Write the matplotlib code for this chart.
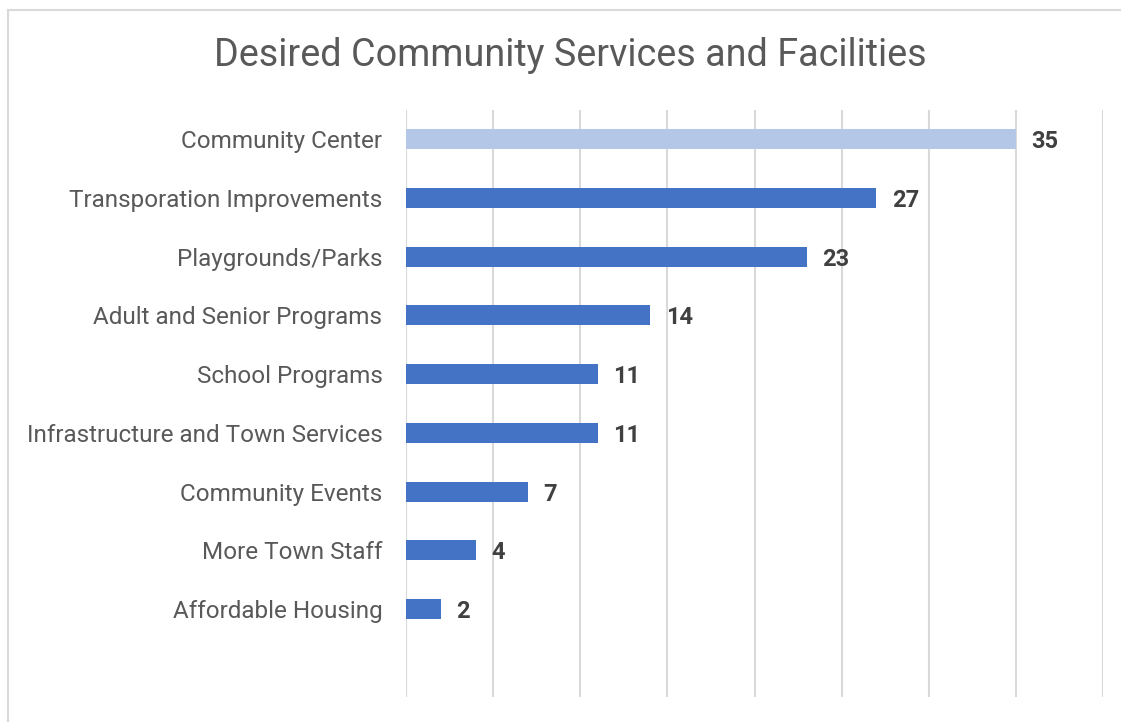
import matplotlib
matplotlib.use("Agg")
import matplotlib.pyplot as plt
from matplotlib.patches import Rectangle

categories = ["Community Center", "Transporation Improvements", "Playgrounds/Parks",
              "Adult and Senior Programs", "School Programs",
              "Infrastructure and Town Services", "Community Events",
              "More Town Staff", "Affordable Housing"]
values = [35, 27, 23, 14, 11, 11, 7, 4, 2]
bar_colors = ["#B4C7E7"] + ["#4472C4"] * 8
title = "Desired Community Services and Facilities"

plt.rcParams['font.family'] = ['Roboto', 'DejaVu Sans']

W, H = 1121, 722
fig = plt.figure(figsize=(W / 100, H / 100), dpi=100)
fig.patch.set_facecolor("white")

# outer border
fig.patches.append(Rectangle((8 / W, -0.2), 1.2, 1.2 - 10 / H, transform=fig.transFigure,
                             fill=False, edgecolor="#D9D9D9", linewidth=1.5))

ax = fig.add_axes([406 / W, 1 - 697 / H, (1103 - 406) / W, (697 - 110) / H])
y = list(range(len(categories)))
ax.barh(y, values, height=0.34, color=bar_colors, zorder=3)
ax.set_xlim(0, 40)
ax.set_ylim(9.5, -0.5)
ax.set_xticks(range(0, 41, 5))
ax.set_xticklabels([])
ax.tick_params(axis='x', length=0)
ax.tick_params(axis='y', length=0, pad=17, labelsize=17.5, labelcolor="#595959")
ax.set_yticks(y)
ax.set_yticklabels(categories)
ax.grid(axis='x', color="#D9D9D9", linewidth=1.5, zorder=0)
for s in ax.spines.values():
    s.set_visible(False)

for yi, v in zip(y, values):
    ax.text(v + 0.9, yi, str(v), va='center_baseline', ha='left', fontsize=17,
            fontweight='bold', color="#404040")

fig.text(570 / W, 1 - 56 / H, title, ha='center', va='center', fontsize=27.2,
         color="#595959")

fig.savefig("out.png", dpi=100, facecolor="white")
